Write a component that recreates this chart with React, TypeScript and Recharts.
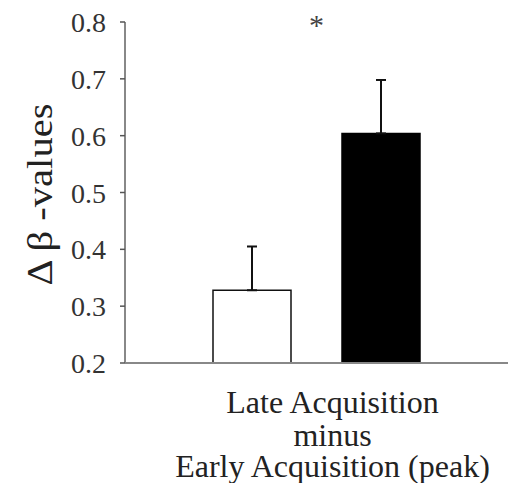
import React from "react";
import { BarChart, Bar, XAxis, YAxis, ErrorBar, ReferenceDot } from "recharts";

const categories = ["Late Acquisition minus Early Acquisition (peak)"];
const categoryLines = ["Late Acquisition", "minus", "Early Acquisition (peak)"];
const groupAValues = [0.328];
const groupAErrors = [0.077];
const groupBValues = [0.604];
const groupBErrors = [0.094];
const yTicks = [0.2, 0.3, 0.4, 0.5, 0.6, 0.7, 0.8];
const yDomain = [0.2, 0.8];
const yLabel = "\u0394 \u03b2 -values";
const significance = "*";

const data = categories.map((c, i) => ({
  name: c,
  a: groupAValues[i],
  aErr: [0, groupAErrors[i]],
  b: groupBValues[i],
  bErr: [0, groupBErrors[i]],
}));

const FONT = "Liberation Serif";

const XTick = (props: any) => {
  const { x, y } = props;
  const offsets = [42, 75, 106];
  return (
    <g>
      {categoryLines.map((line, i) => (
        <text
          key={i}
          x={x + 16}
          y={y + offsets[i]}
          textAnchor="middle"
          fontFamily={FONT}
          fontSize={32}
          fill="#222"
        >
          {line}
        </text>
      ))}
    </g>
  );
};

const YTick = (props: any) => {
  const { x, y, payload } = props;
  return (
    <text
      x={x}
      y={y}
      dy={10}
      textAnchor="end"
      fontFamily={FONT}
      fontSize={28}
      fill="#333"
    >
      {payload.value.toFixed(1)}
    </text>
  );
};

const YLabel = (props: any) => {
  const { viewBox } = props;
  const cx = 52;
  const cy = viewBox.y + viewBox.height / 2 + 2;
  return (
    <text
      x={cx}
      y={cy}
      transform={`rotate(-90, ${cx}, ${cy})`}
      textAnchor="middle"
      fontFamily={FONT}
      fontSize={36}
      textLength={182}
      lengthAdjust="spacingAndGlyphs"
      fill="#222"
    >
      {yLabel}
    </text>
  );
};

export default function App() {
  return (
    <div style={{ position: "absolute", left: 0, top: 0, background: "#fff" }}>
      <BarChart
        width={508}
        height={483}
        data={data}
        margin={{ top: 22, right: 0, left: 0, bottom: 0 }}
        barSize={78}
        barGap={51}
      >
        <XAxis
          dataKey="name"
          height={120}
          axisLine={{ stroke: "#888", strokeWidth: 2 }}
          tickLine={false}
          tick={<XTick />}
          interval={0}
        />
        <YAxis
          width={125}
          domain={yDomain}
          ticks={yTicks}
          allowDataOverflow
          axisLine={{ stroke: "#888", strokeWidth: 2 }}
          tickLine={{ stroke: "#555", strokeWidth: 1.5 }}
          tickSize={5}
          tickMargin={14}
          tick={<YTick />}
          label={<YLabel />}
        />
        <Bar dataKey="a" fill="#fff" stroke="#111" strokeWidth={1.5} isAnimationActive={false}>
          <ErrorBar dataKey="aErr" direction="y" width={5} stroke="#111" strokeWidth={2} />
        </Bar>
        <Bar dataKey="b" fill="#000" stroke="#000" strokeWidth={1.5} isAnimationActive={false}>
          <ErrorBar dataKey="bErr" direction="y" width={5} stroke="#111" strokeWidth={2} />
        </Bar>
        <ReferenceDot
          x={categories[0]}
          y={0.8}
          r={0}
          fill="none"
          stroke="none"
          label={{ value: significance, position: "center", fontFamily: FONT, fontSize: 30, fill: "#444", dy: 2 }}
        />
      </BarChart>
    </div>
  );
}
